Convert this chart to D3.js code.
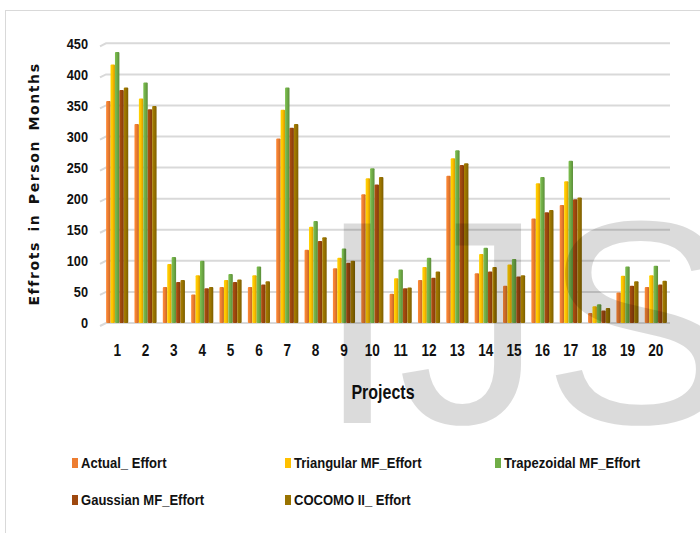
<!DOCTYPE html>
<html>
<head>
<meta charset="utf-8">
<script src="https://cdn.jsdelivr.net/npm/d3@7"></script>
<style>
  body { margin: 0; background: #fff; }
  svg { display: block; }
</style>
</head>
<body>
<div id="chart"></div>
<script>
// values
const projects = ["1","2","3","4","5","6","7","8","9","10","11","12","13","14","15","16","17","18","19","20"]
const seriesNames = ["Actual_ Effort", "Triangular MF_Effort", "Trapezoidal MF_Effort", "Gaussian MF_Effort", "COCOMO II_ Effort"]
const actualEffort      = [357, 320, 58, 46, 58, 58, 297, 118, 88, 207, 47, 69, 237, 80, 60, 168, 190, 16, 49, 58]
const triangularEffort  = [416, 361, 95, 77, 69, 77, 343, 155, 105, 233, 72, 90, 265, 111, 94, 225, 228, 27, 76, 77]
const trapezoidalEffort = [436, 387, 106, 100, 79, 91, 379, 164, 120, 249, 86, 105, 278, 121, 103, 235, 261, 30, 91, 92]
const gaussianEffort    = [375, 344, 66, 56, 66, 62, 314, 132, 97, 223, 56, 73, 254, 83, 75, 178, 199, 20, 60, 62]
const cocomoEffort      = [379, 349, 69, 58, 70, 67, 320, 138, 100, 235, 57, 83, 257, 90, 77, 182, 202, 24, 67, 68]
const yTicks = [0, 50, 100, 150, 200, 250, 300, 350, 400, 450]
const colors = ["#ED7D31", "#FFC000", "#70AD47", "#9E480E", "#997300"]

const allSeries = [actualEffort, triangularEffort, trapezoidalEffort, gaussianEffort, cocomoEffort]

let width = 700, height = 533
let narrowFont = '"Liberation Sans", Arial, sans-serif'
let svg = d3.select('#chart').append('svg')
    .attr('width', width)
    .attr('height', height)

// outer frame
svg.append('rect')
    .attr('x', 5.5).attr('y', 10.5)
    .attr('width', 720).attr('height', 540)
    .attr('fill', 'none')
    .attr('stroke', '#d9d9d9')

// cylinder-ish shading per series
let defs = svg.append('defs')
colors.forEach((c, i) => {
    let g = defs.append('linearGradient').attr('id', 'grad' + i)
        .attr('x1', '0%').attr('x2', '100%').attr('y1', '0%').attr('y2', '0%')
    g.append('stop').attr('offset', '0%').attr('stop-color', d3.color(c).brighter(0.3))
    g.append('stop').attr('offset', '45%').attr('stop-color', c)
    g.append('stop').attr('offset', '100%').attr('stop-color', d3.color(c).darker(0.6))
})

let xScale = d3.scaleBand().domain(projects).range([103, 670]).paddingInner(0.22).paddingOuter(0.11)
let xInner = d3.scaleBand().domain(d3.range(seriesNames.length)).range([0, xScale.bandwidth()])
let yScale = d3.scaleLinear().domain([0, 450]).range([323, 43.3])

// gridlines with the little slanted stub on the left
let grid = svg.append('g')
yTicks.forEach(t => {
    let y = yScale(t)
    grid.append('path')
        .attr('d', `M100,${y + 3}L106,${y}L670,${y}`)
        .attr('fill', 'none')
        .attr('stroke', '#d9d9d9')
        .attr('stroke-width', 2)
})

// y axis labels
let yAxis = svg.append('g').attr('transform', 'translate(88,0)')
    .call(d3.axisLeft(yScale).tickValues(yTicks).tickSize(0).tickPadding(0))
yAxis.select('.domain').remove()
yAxis.selectAll('text')
    .attr('transform', 'scale(0.85,1)')
    .style('font-family', narrowFont)
    .style('font-weight', 'bold')
    .style('font-size', '15px')
    .attr('fill', '#111')

// bars
allSeries.forEach((vals, si) => {
    svg.append('g').selectAll('rect')
        .data(vals)
        .enter()
        .append('rect')
            .attr('x', (d, i) => xScale(projects[i]) + xInner(si))
            .attr('y', d => yScale(d))
            .attr('width', xInner.bandwidth())
            .attr('height', d => yScale(0) - yScale(d))
            .attr('rx', 1)
            .style('fill', 'url(#grad' + si + ')')
})

// x axis labels
let xAxis = svg.append('g').attr('transform', 'translate(0,345)')
    .call(d3.axisBottom(xScale).tickSize(0).tickPadding(0))
xAxis.select('.domain').remove()
xAxis.selectAll('text')
    .attr('transform', 'scale(0.85,1)')
    .style('font-family', narrowFont)
    .style('font-weight', 'bold')
    .style('font-size', '16px')
    .attr('fill', '#111')

svg.append('text')
    .attr('transform', 'translate(383,399) scale(0.8,1)')
    .style('text-anchor', 'middle')
    .style('font-family', narrowFont)
    .style('font-weight', 'bold')
    .style('font-size', '20px')
    .attr('fill', '#111')
    .text('Projects')

svg.append('text')
    .attr('transform', 'rotate(-90)')
    .attr('x', -184).attr('y', 39)
    .style('text-anchor', 'middle')
    .style('font-family', '"DejaVu Sans", sans-serif')
    .style('font-weight', 'bold')
    .style('font-size', '14px')
    .style('letter-spacing', '1.6px')
    .style('word-spacing', '3px')
    .attr('fill', '#111')
    .text('Effrots in Person Months')

// legend
let legendPos = [[72, 463], [285, 463], [495, 463], [72, 500], [285, 500]]
seriesNames.forEach((name, i) => {
    let [lx, ly] = legendPos[i]
    svg.append('rect').attr('x', lx).attr('y', ly - 5).attr('width', 6).attr('height', 10).style('fill', colors[i])
    svg.append('text')
        .attr('transform', `translate(${lx + 9},${ly}) scale(0.87,1)`)
        .attr('dy', '0.35em')
        .style('font-family', narrowFont)
        .style('font-weight', 'bold')
        .style('font-size', '15px')
        .attr('fill', '#111')
        .text(name)
})

// watermark over the plot
svg.append('text')
    .attr('x', 317).attr('y', 423)
    .style('font-family', '"Liberation Sans", Arial, sans-serif')
    .style('font-size', '290px')
    .attr('fill', '#000')
    .attr('fill-opacity', 0.14)
    .text('IJS')
</script>
</body>
</html>
